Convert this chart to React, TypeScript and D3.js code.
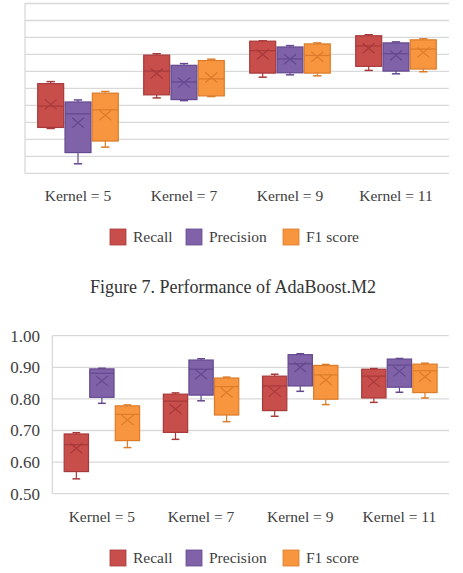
import * as d3 from "d3";

// Kernel sizes on the x axis
const categories = ["Kernel = 5", "Kernel = 7", "Kernel = 9", "Kernel = 11"];
const seriesNames = ["Recall", "Precision", "F1 score"];
const fills = ["#c84e4c", "#7f62a8", "#f7963f"];
const strokes = ["#a8393a", "#64498f", "#dc7c2a"];

// Each entry: [min, q1, median, q3, max, mean]
type Stats = [number, number, number, number, number, number];

// Upper figure (axis labels fall outside the frame)
const topRecall: Stats[] = [
  [0.632, 0.635, 0.698, 0.764, 0.77, 0.703],
  [0.722, 0.731, 0.801, 0.848, 0.852, 0.794],
  [0.783, 0.795, 0.861, 0.889, 0.89, 0.85],
  [0.803, 0.815, 0.875, 0.905, 0.908, 0.868],
];
const topPrecision: Stats[] = [
  [0.528, 0.561, 0.675, 0.71, 0.716, 0.649],
  [0.714, 0.717, 0.769, 0.818, 0.823, 0.767],
  [0.79, 0.796, 0.837, 0.872, 0.876, 0.836],
  [0.793, 0.801, 0.852, 0.884, 0.887, 0.847],
];
const topF1: Stats[] = [
  [0.577, 0.595, 0.687, 0.736, 0.741, 0.671],
  [0.726, 0.728, 0.778, 0.832, 0.836, 0.782],
  [0.787, 0.795, 0.847, 0.881, 0.884, 0.843],
  [0.799, 0.807, 0.866, 0.893, 0.896, 0.856],
];
const topTicks = [0.5, 0.55, 0.6, 0.65, 0.7, 0.75, 0.8, 0.85, 0.9, 0.95, 1.0];

// Figure 8 style panel with labelled axis
const botRecall: Stats[] = [
  [0.547, 0.57, 0.655, 0.689, 0.693, 0.644],
  [0.672, 0.694, 0.793, 0.815, 0.819, 0.768],
  [0.745, 0.763, 0.841, 0.872, 0.878, 0.823],
  [0.789, 0.803, 0.872, 0.894, 0.896, 0.854],
];
const botPrecision: Stats[] = [
  [0.786, 0.805, 0.881, 0.895, 0.897, 0.857],
  [0.794, 0.812, 0.894, 0.923, 0.927, 0.878],
  [0.824, 0.841, 0.911, 0.94, 0.943, 0.9],
  [0.821, 0.837, 0.907, 0.926, 0.928, 0.887],
];
const botF1: Stats[] = [
  [0.646, 0.668, 0.751, 0.778, 0.781, 0.733],
  [0.728, 0.749, 0.839, 0.866, 0.869, 0.82],
  [0.782, 0.799, 0.876, 0.906, 0.909, 0.86],
  [0.803, 0.82, 0.889, 0.91, 0.913, 0.87],
];
const botTicks = [0.5, 0.6, 0.7, 0.8, 0.9, 1.0];

const FONT = "'Liberation Serif', 'Times New Roman', serif";
const W = 463;
const H = 573;

interface PanelProps {
  series: Stats[][];
  ticks: number[];
  showLabels: boolean;
  left: number;
  right: number;
  top: number;
  bottom: number;
  catY: number;
  legendY: number;
}

function BoxPanel({ series, ticks, showLabels, left, right, top, bottom, catY, legendY }: PanelProps) {
  const y = d3.scaleLinear().domain([0.5, 1.0]).range([bottom, top]);
  const x0 = d3.scaleBand().domain(categories).range([left, right]).paddingInner(0.24).paddingOuter(0.12);
  const x1 = d3.scaleBand().domain(seriesNames).range([0, x0.bandwidth()]).paddingInner(0.05);
  const bw = x1.bandwidth();

  const legendX = [110, 186, 283];

  return (
    <g>
      {ticks.map((t) => (
        <line key={t} x1={left} x2={right} y1={y(t)} y2={y(t)} stroke="#d9d9d9" strokeWidth={1.3} />
      ))}
      <line x1={left} x2={left} y1={y(1.0)} y2={y(0.5)} stroke="#d9d9d9" strokeWidth={1.3} />
      {showLabels &&
        ticks.map((t) => (
          <text key={t} x={40} y={y(t)} dy="0.35em" textAnchor="end" fontSize={17} fill="#404040" fontFamily={FONT}>
            {d3.format(".2f")(t)}
          </text>
        ))}
      {categories.map((c, ci) =>
        seriesNames.map((s, si) => {
          const [mn, q1, med, q3, mx, mean] = series[si][ci];
          const bx = (x0(c) ?? 0) + (x1(s) ?? 0);
          const cx = bx + bw / 2;
          const cap = bw * 0.16;
          return (
            <g key={c + s}>
              <line x1={cx} x2={cx} y1={y(mx)} y2={y(q3)} stroke={strokes[si]} strokeWidth={1.2} />
              <line x1={cx} x2={cx} y1={y(q1)} y2={y(mn)} stroke={strokes[si]} strokeWidth={1.2} />
              <line x1={cx - cap} x2={cx + cap} y1={y(mx)} y2={y(mx)} stroke={strokes[si]} strokeWidth={1.5} />
              <line x1={cx - cap} x2={cx + cap} y1={y(mn)} y2={y(mn)} stroke={strokes[si]} strokeWidth={1.5} />
              <rect
                x={bx}
                y={y(q3)}
                width={bw}
                height={y(q1) - y(q3)}
                fill={fills[si]}
                stroke={strokes[si]}
                strokeWidth={1.2}
              />
              <line x1={bx} x2={bx + bw} y1={y(med)} y2={y(med)} stroke={strokes[si]} strokeWidth={1.2} />
              <path
                d={`M${cx - 6},${y(mean) - 5}L${cx + 6},${y(mean) + 5}M${cx + 6},${y(mean) - 5}L${cx - 6},${y(mean) + 5}`}
                stroke={strokes[si]}
                strokeWidth={1.2}
                fill="none"
              />
            </g>
          );
        })
      )}
      {categories.map((c) => (
        <text
          key={c}
          x={(x0(c) ?? 0) + x0.bandwidth() / 2}
          y={catY}
          dy="0.35em"
          textAnchor="middle"
          fontSize={15.5}
          fill="#404040"
          fontFamily={FONT}
        >
          {c}
        </text>
      ))}
      {seriesNames.map((s, i) => (
        <g key={s} transform={`translate(${legendX[i]},${legendY})`}>
          <rect x={0} y={-8} width={16} height={16} fill={fills[i]} stroke={strokes[i]} strokeWidth={0.8} />
          <text x={23} y={0} dy="0.35em" fontSize={15.5} fill="#404040" fontFamily={FONT}>
            {s}
          </text>
        </g>
      ))}
    </g>
  );
}

export default function App() {
  return (
    <svg width={W} height={H} style={{ position: "absolute", left: 0, top: 0, background: "#fff" }}>
      <BoxPanel
        series={[topRecall, topPrecision, topF1]}
        ticks={topTicks}
        showLabels={false}
        left={25}
        right={449}
        top={3.5}
        bottom={173.3}
        catY={196}
        legendY={237}
      />
      <text x={233} y={287} dy="0.35em" textAnchor="middle" fontSize={18} fill="#333" fontFamily={FONT}>
        Figure 7. Performance of AdaBoost.M2
      </text>
      <BoxPanel
        series={[botRecall, botPrecision, botF1]}
        ticks={botTicks}
        showLabels={true}
        left={52.3}
        right={449}
        top={335.7}
        bottom={493.7}
        catY={517}
        legendY={558}
      />
    </svg>
  );
}
